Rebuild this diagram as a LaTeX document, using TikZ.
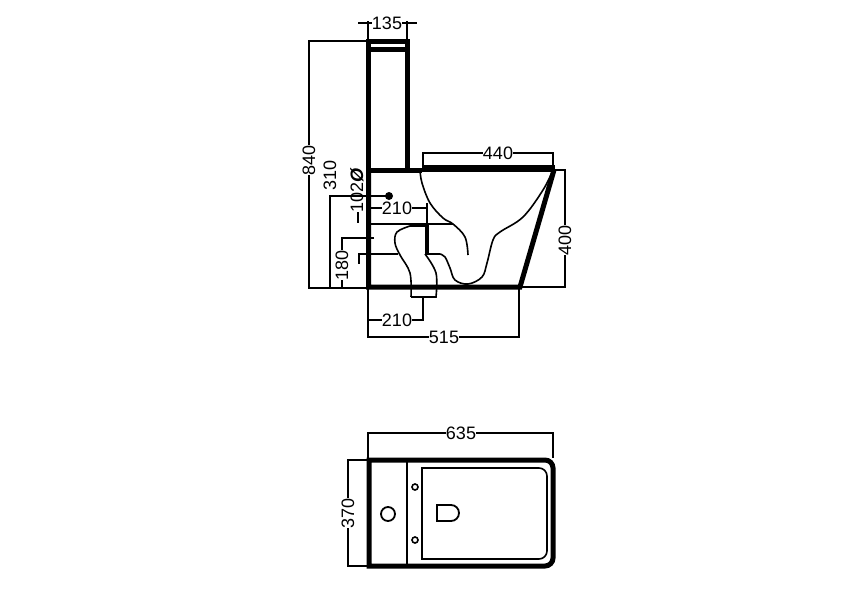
\documentclass[tikz,border=0pt]{standalone}
\usepackage{fontspec}
\setmainfont{Liberation Sans}
\tikzset{
  wall/.style={line width=5pt},
  bowl/.style={line width=1.6pt},
  dimline/.style={line width=1.2pt},
  dimtext/.style={fill=white,inner sep=0.3pt,font=\fontsize{18}{18}\selectfont},
  dimside/.style={dimtext,rotate=90}
}
\begin{document}
\begin{tikzpicture}[x=1pt,y=-1pt]
  \useasboundingbox (0,0) rectangle (865,600);
  % side view, walls
  \draw[wall] (368.5,172) -- (368.5,41) -- (407,41) -- (407,170);
  \draw[wall] (368,49) -- (407,49);
  \draw[wall] (366,170) -- (422,170);
  \draw[line width=7pt] (422,168.5) -- (555,168.5);
  \draw[wall] (368.5,170) -- (368.5,287) -- (520,287) -- (554,170);
  \draw[line width=4pt] (427,224) -- (427,254);
  % side view, bowl and trap
  \draw[bowl] plot[smooth,tension=0.6] coordinates {(420,170) (422,183) (430,203) (443,218) (453,224) (465,237) (468,255)};
  \draw[bowl] plot[smooth,tension=0.6] coordinates {(553,170) (543,190) (523,217) (500,232) (493,240) (487,263) (482,277) (468,284) (455,280) (450,268) (445,257) (440,254)};
  \draw[bowl] (440,254) -- (425,254);
  \draw[bowl] plot[smooth,tension=0.6] coordinates {(425,254) (436,273) (436,297)} -- (411,297);
  \draw[bowl] (427,226) -- (410,226);
  \draw[bowl] plot[smooth,tension=0.6] coordinates {(410,226) (397,232) (395,243) (400,255) (410,273) (411,297)};
  \draw[bowl] (368,224) -- (453,224);
  % side view, dimensions
  \draw[dimline] (358,23) -- (417,23) (368,21) -- (368,39) (407,21) -- (407,39);
  \draw[dimline] (366,41) -- (309,41) -- (309,288) -- (366,288);
  \draw[dimline] (389,196) -- (330,196) -- (330,287);
  \draw[dimline] (374,238) -- (342,238) -- (342,287);
  \draw[dimline] (398,254) -- (359,254) -- (359,264);
  \draw[dimline] (358,212) -- (358,223);
  \draw[dimline] (370,208) -- (427,208) (427,203) -- (427,224);
  \draw[dimline] (423,165) -- (423,153) -- (553,153) -- (553,165);
  \draw[dimline] (555,170) -- (565,170) -- (565,287) -- (520,287);
  \draw[dimline] (368,289) -- (368,337) -- (519,337) -- (519,289);
  \draw[dimline] (368,320) -- (423,320) -- (423,297);
  \fill (389,196) circle (4);
  \node[dimtext] (lblTank) at (387,23) {135};
  \node[dimside] (lblHeight) at (309,160) {840};
  \node[dimside] (lblInlet) at (330,175) {310};
  \node[dimside,fill=none] (lblPipe) at (357,190) {102\textbf{\textit{Ø}}};
  \node[dimside] (lblFeed) at (342,265) {180};
  \node[dimtext] (lblUpper) at (397,208) {210};
  \node[dimtext] (lblLower) at (397,320) {210};
  \node[dimtext] (lblSeat) at (498,153) {440};
  \node[dimside] (lblRim) at (565,240) {400};
  \node[dimtext] (lblDepth) at (444,337) {515};
  % top view
  \draw[wall] (369,460) [rounded corners=8pt] -- (553,460) -- (553,566) [sharp corners] -- (369,566) -- cycle;
  \draw[bowl] (407,460) -- (407,566);
  \draw[bowl] (422,468) [rounded corners=8pt] -- (547,468) -- (547,559) [sharp corners] -- (422,559) -- cycle;
  \draw[bowl] (415,487) circle (3) (415,540) circle (3);
  \draw[line width=1.8pt] (388,514) circle (7);
  \draw[line width=1.8pt] (437,505) [rounded corners=8pt] -- (459,505) -- (459,521) [sharp corners] -- (437,521) -- cycle;
  % top view, dimensions
  \draw[dimline] (368,458) -- (368,433) -- (553,433) -- (553,458);
  \draw[dimline] (367,460) -- (348,460) -- (348,566) -- (367,566);
  \node[dimtext] (lblLength) at (461,433) {635};
  \node[dimside] (lblWidth) at (348,513) {370};
\end{tikzpicture}
\end{document}
